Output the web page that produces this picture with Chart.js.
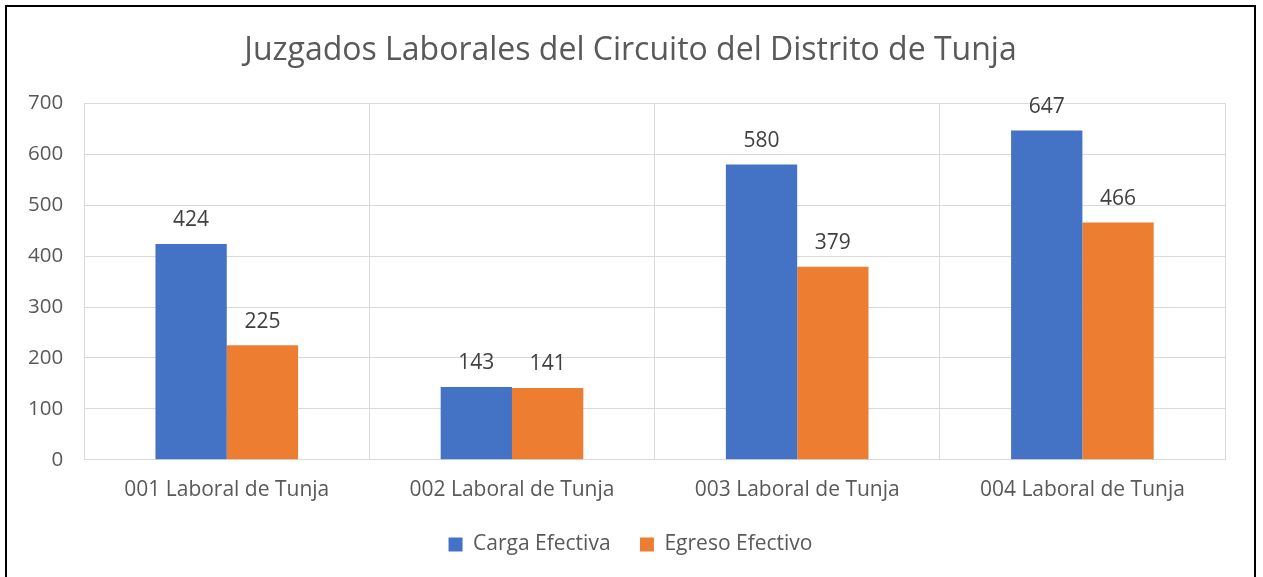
<!DOCTYPE html>
<html>
<head>
<meta charset="utf-8">
<script src="https://cdn.jsdelivr.net/npm/chart.js@4"></script>
<style>
  body { margin: 0; background: #fff; }
  #marco {
    position: absolute; left: 5px; top: 5px;
    width: 1247px; height: 600px;
    border: 2px solid #000; background: #fff;
  }
  #wrap { position: relative; width: 1247px; height: 570px; }
</style>
</head>
<body>
<div id="marco"><div id="wrap"><canvas id="grafico"></canvas></div></div>
<script>
const categorias = ["001 Laboral de Tunja", "002 Laboral de Tunja", "003 Laboral de Tunja", "004 Laboral de Tunja"];
const cargaEfectiva = [424, 143, 580, 647];
const egresoEfectivo = [225, 141, 379, 466];
const ticksY = [0, 100, 200, 300, 400, 500, 600, 700];

const fuente = "'Open Sans', sans-serif";
const gris = "#595959";

// etiquetas de valor encima de cada barra
const etiquetas = {
  id: "etiquetas",
  afterDatasetsDraw(chart) {
    const ctx = chart.ctx;
    ctx.save();
    ctx.font = "21px " + fuente;
    ctx.fillStyle = "#404040";
    ctx.textAlign = "center";
    ctx.textBaseline = "bottom";
    chart.data.datasets.forEach((ds, i) => {
      chart.getDatasetMeta(i).data.forEach((el, j) => {
        ctx.fillText(ds.data[j], el.x, el.y - 13);
      });
    });
    ctx.restore();
  }
};

new Chart(document.getElementById("grafico"), {
  type: "bar",
  data: {
    labels: categorias,
    datasets: [
      { label: "Carga Efectiva", data: cargaEfectiva, backgroundColor: "#4472C4" },
      { label: "Egreso Efectivo", data: egresoEfectivo, backgroundColor: "#ED7D31" }
    ]
  },
  options: {
    responsive: true,
    maintainAspectRatio: false,
    animation: false,
    layout: { padding: { left: 0, right: 0, top: 25, bottom: 12 } },
    datasets: { bar: { categoryPercentage: 0.5, barPercentage: 1 } },
    scales: {
      x: {
        grid: { color: "#D9D9D9", lineWidth: 1, drawTicks: false },
        border: { color: "#D9D9D9" },
        ticks: { color: gris, font: { family: fuente, size: 21 }, padding: 18 }
      },
      y: {
        min: 0, max: 700,
        afterBuildTicks: axis => { axis.ticks = ticksY.map(v => ({ value: v })); },
        grid: { color: "#D9D9D9", lineWidth: 1, drawTicks: false },
        border: { color: "#D9D9D9" },
        ticks: { color: gris, font: { family: fuente, size: 20.5 }, padding: 21 }
      },
      // margen derecho vacío
      derecha: {
        position: "right",
        grid: { display: false },
        border: { display: false },
        ticks: { display: false },
        afterFit: axis => { axis.width = 29; }
      }
    },
    plugins: {
      title: {
        display: true,
        text: "Juzgados Laborales del Circuito del Distrito de Tunja",
        color: "#595959",
        font: { family: fuente, size: 32, weight: "normal" },
        padding: { top: 0, bottom: 33 }
      },
      legend: {
        position: "bottom",
        labels: {
          color: gris, font: { family: fuente, size: 21 },
          boxWidth: 14, boxHeight: 14, padding: 13,
          generateLabels: chart => {
            const items = Chart.defaults.plugins.legend.labels.generateLabels(chart);
            items.forEach((it, i) => { if (i < items.length - 1) it.text += "   "; });
            return items;
          }
        }
      },
      tooltip: { enabled: false }
    }
  },
  plugins: [etiquetas]
});
</script>
</body>
</html>
